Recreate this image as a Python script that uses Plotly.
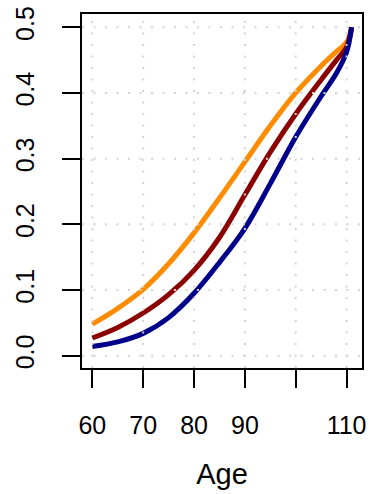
import plotly.graph_objects as go

ages = [60, 65, 70, 75, 80, 85, 90, 95, 100, 105, 108, 110, 111]
orange_vals = [0.048, 0.072, 0.101, 0.140, 0.187, 0.240, 0.295, 0.350, 0.400, 0.441, 0.463, 0.477, 0.500]
darkred_vals = [0.027, 0.043, 0.065, 0.093, 0.130, 0.180, 0.245, 0.310, 0.368, 0.420, 0.450, 0.470, 0.500]
blue_vals = [0.014, 0.021, 0.034, 0.058, 0.095, 0.142, 0.194, 0.262, 0.333, 0.395, 0.430, 0.462, 0.500]

x_ticks = [60, 70, 80, 90, 100, 110]
x_tick_text = ["60", "70", "80", "90", "", "110"]
y_ticks = [0.0, 0.1, 0.2, 0.3, 0.4, 0.5]
y_tick_text = ["0.0", "0.1", "0.2", "0.3", "0.4", "0.5"]

FONT = "Liberation Sans, Arial, sans-serif"

fig = go.Figure()
for vals, col in [(orange_vals, "#FF8C00"), (darkred_vals, "#8B0000"), (blue_vals, "#00008B")]:
    fig.add_trace(go.Scatter(x=ages, y=vals, mode="lines",
                             line=dict(color=col, width=5, shape="spline", smoothing=1.0),
                             showlegend=False, hoverinfo="skip"))

shapes = []
for xv in x_ticks:
    shapes.append(dict(type="line", xref="x", yref="paper", x0=xv, x1=xv, y0=0, y1=1,
                       line=dict(color="#D3D3D3", width=2, dash="2px,9.5px"), layer="above"))
for yv in y_ticks:
    shapes.append(dict(type="line", xref="paper", yref="y", x0=0, x1=1, y0=yv, y1=yv,
                       line=dict(color="#D3D3D3", width=2, dash="2px,9.5px"), layer="above"))

fig.update_layout(
    width=372, height=494,
    margin=dict(l=82, r=6, t=13, b=126),
    plot_bgcolor="white", paper_bgcolor="white",
    font=dict(family=FONT, size=25, color="black"),
    shapes=shapes,
)
fig.update_xaxes(range=[57.96, 113.04], tickmode="array", tickvals=x_ticks, ticktext=x_tick_text,
                 ticks="outside", ticklen=18, tickwidth=2, tickcolor="black",
                 showline=True, linecolor="black", linewidth=2, mirror=True,
                 showgrid=False, zeroline=False, ticklabelstandoff=16,
                 tickfont=dict(size=25),
                 title=dict(text="Age", standoff=26, font=dict(size=29)))
fig.update_yaxes(range=[-0.0187, 0.5202], tickmode="array", tickvals=y_ticks, ticktext=y_tick_text,
                 ticks="outside", ticklen=18, tickwidth=2, tickcolor="black", tickangle=-90,
                 showline=True, linecolor="black", linewidth=2, mirror=True,
                 showgrid=False, zeroline=False, ticklabelstandoff=18,
                 tickfont=dict(size=25))

fig.write_html("out.html")
